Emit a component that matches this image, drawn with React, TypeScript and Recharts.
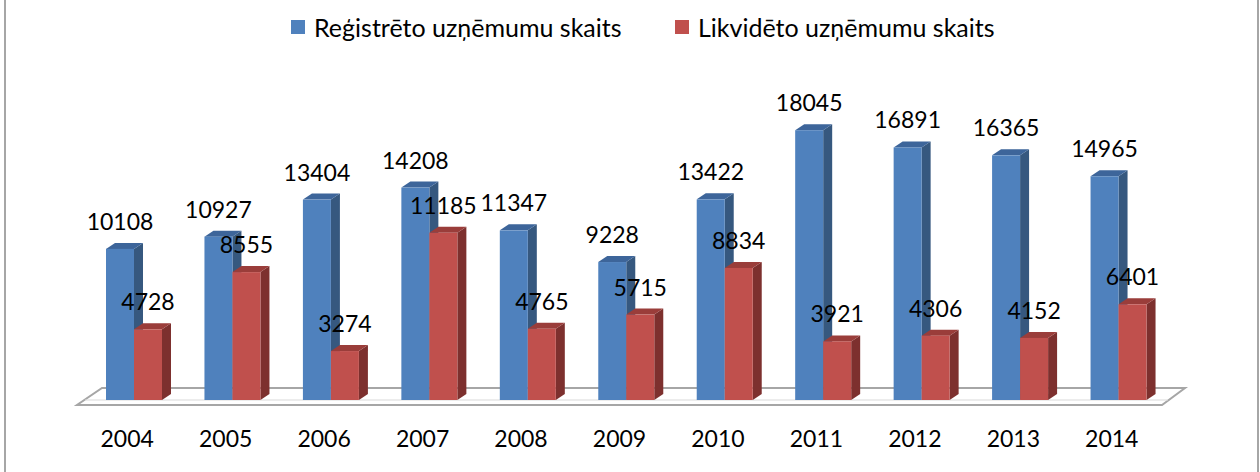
import React from "react";
import { BarChart, Bar, XAxis, YAxis, LabelList } from "recharts";

const years = ["2004", "2005", "2006", "2007", "2008", "2009", "2010", "2011", "2012", "2013", "2014"];
const registered = [10108, 10927, 13404, 14208, 11347, 9228, 13422, 18045, 16891, 16365, 14965];
const liquidated = [4728, 8555, 3274, 11185, 4765, 5715, 8834, 3921, 4306, 4152, 6401];

const REG_NAME = "Reģistrēto uzņēmumu skaits";
const LIQ_NAME = "Likvidēto uzņēmumu skaits";

const data = years.map((year, i) => ({
  year,
  reg: registered[i],
  liq: liquidated[i],
}));

const FONT = "Lato, 'Open Sans', sans-serif";
const DX = 9;
const DY = 6;

// front face + side + top, Excel 3D column look
const make3D = (front: string, side: string, top: string) => (props: any) => {
  const { x, y, width, height } = props;
  if (height <= 0) return <g />;
  return (
    <g>
      <polygon
        points={`${x + width},${y} ${x + width + DX},${y - DY} ${x + width + DX},${y + height - DY} ${x + width},${y + height}`}
        fill={side}
      />
      <polygon
        points={`${x},${y} ${x + DX},${y - DY} ${x + width + DX},${y - DY} ${x + width},${y}`}
        fill={top}
      />
      <rect x={x} y={y} width={width} height={height} fill={front} />
    </g>
  );
};

const blueShape = make3D("#4F81BD", "#36587F", "#3D659A");
const redShape = make3D("#C0504D", "#7D302E", "#9A3D3A");

const YearTick = (props: any) => {
  const { x, y, payload } = props;
  return (
    <text x={x - 7} y={y} dy="0.71em" textAnchor="middle" fontSize={23} fill="#000" fontFamily={FONT}>
      {payload.value}
    </text>
  );
};

const Floor = () => (
  <svg width={1260} height={472} style={{ position: "absolute", left: 0, top: 0 }}>
    <polygon points="77,405 1162,405 1185,388 102,388" fill="#fff" stroke="#A6A6A6" strokeWidth={2} />
    <line x1={85} y1={400} x2={1168} y2={400} stroke="#D9D9D9" strokeWidth={1} />
  </svg>
);

const legendItems = [
  { name: REG_NAME, color: "#4F81BD", left: 291 },
  { name: LIQ_NAME, color: "#C0504D", left: 675 },
];

const Legend = () => (
  <>
    {legendItems.map((s) => (
      <div
        key={s.name}
        style={{
          position: "absolute",
          top: 12,
          left: s.left,
          display: "flex",
          alignItems: "center",
          gap: 9,
          fontFamily: FONT,
          fontSize: 25,
          color: "#000",
          whiteSpace: "nowrap",
        }}
      >
        <span style={{ width: 14, height: 14, background: s.color, display: "inline-block" }} />
        <span>{s.name}</span>
      </div>
    ))}
  </>
);

export default function App() {
  return (
    <div
      style={{
        position: "absolute",
        left: 0,
        top: 0,
        width: 1260,
        height: 472,
        background: "#fff",
        overflow: "hidden",
      }}
    >
      <Floor />
      <div style={{ position: "absolute", left: 0, top: 0 }}>
        <BarChart
          width={1260}
          height={472}
          data={data}
          margin={{ top: 101, right: 92, bottom: 32, left: 85 }}
          barSize={28}
          barGap={0}
        >
          <XAxis
            dataKey="year"
            axisLine={false}
            tickLine={false}
            tickSize={0}
            tickMargin={31}
            height={40}
            tick={<YearTick />}
            interval={0}
          />
          <YAxis hide domain={[0, 20000]} />
          <Bar dataKey="reg" name={REG_NAME} fill="#4F81BD" shape={blueShape} isAnimationActive={false}>
            <LabelList dataKey="reg" position="top" offset={19} fontSize={23} fill="#000" fontFamily={FONT} />
          </Bar>
          <Bar dataKey="liq" name={LIQ_NAME} fill="#C0504D" shape={redShape} isAnimationActive={false}>
            <LabelList dataKey="liq" position="top" offset={19} fontSize={23} fill="#000" fontFamily={FONT} />
          </Bar>
        </BarChart>
      </div>
      <Legend />
      <div
        style={{
          position: "absolute",
          left: 4,
          top: -4,
          width: 1251,
          height: 480,
          border: "2px solid #A6A6A6",
          pointerEvents: "none",
        }}
      />
    </div>
  );
}
